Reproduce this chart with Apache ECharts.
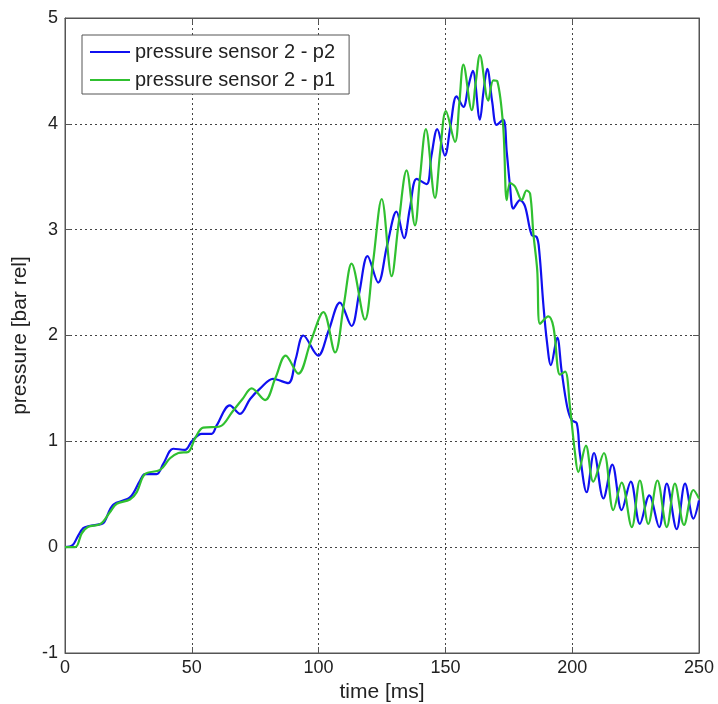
<!DOCTYPE html>
<html>
<head>
<meta charset="utf-8">
<script src="https://cdn.jsdelivr.net/npm/echarts@6/dist/echarts.min.js"></script>
<style>html,body{margin:0;padding:0;background:#fff;}#c{width:718px;height:704px;}</style>
</head>
<body>
<div id="c"></div>
<script>
var seriesNames = ['pressure sensor 2 - p2', 'pressure sensor 2 - p1'];
var xTicks = [0, 50, 100, 150, 200, 250];
var yTicks = [-1, 0, 1, 2, 3, 4, 5];
// [time ms, pressure bar rel]
var p2 = [[0,0],[3,0.02],[5,0.1],[7.2,0.18],[9.5,0.2],[14.5,0.22],[15.6,0.24],[19,0.40],[25.6,0.47],[29.6,0.63],[31.5,0.69],[36.1,0.69],[38.8,0.79],[42.7,0.93],[47.3,0.92],[50,1.0],[53.9,1.07],[57.8,1.07],[59.8,1.15],[65,1.34],[69,1.26],[73,1.40],[77,1.50],[82,1.59],[88,1.55],[91,1.78],[94,2.0],[99.8,1.81],[104,2.05],[108.4,2.31],[113,2.09],[116,2.4],[119.3,2.75],[123.5,2.50],[127,2.85],[130.7,3.17],[133.7,2.92],[136,3.2],[138.7,3.48],[142.6,3.43],[144.5,3.7],[146.8,3.95],[149.8,3.70],[152,3.98],[154.4,4.26],[157.1,4.16],[159,4.35],[160.8,4.50],[163.6,4.04],[165,4.3],[166.5,4.52],[168.5,4.2],[170.2,3.99],[172.8,4.04],[174.2,3.73],[175.5,3.41],[176.8,3.20],[179.4,3.28],[181.4,3.22],[184,2.95],[186,2.93],[187,2.8],[188.6,2.3],[190,1.95],[191.6,1.72],[194.1,1.98],[195.8,1.67],[198,1.33],[199.8,1.20],[201.8,1.17],[203,0.89],[205.7,0.52],[208.6,0.89],[212.3,0.46],[215.8,0.78],[219.5,0.35],[223.1,0.62],[226.7,0.22],[230.4,0.49],[234.3,0.19],[237.3,0.60],[241.2,0.17],[244.5,0.60],[247.8,0.27],[250,0.44]];
var p1 = [[0,0],[4,0],[6.6,0.13],[9,0.19],[14,0.22],[17.7,0.33],[20.4,0.41],[25.6,0.45],[28.3,0.52],[31.5,0.69],[37.5,0.73],[41.4,0.84],[44.7,0.89],[48.6,0.90],[51.3,1.03],[54.5,1.13],[61,1.14],[66,1.28],[70,1.40],[73.6,1.50],[78.9,1.39],[83,1.6],[87,1.81],[92,1.64],[97,1.95],[101.9,2.22],[106.5,1.84],[110,2.3],[113,2.68],[118.3,2.15],[121.5,2.7],[124.9,3.29],[128.8,2.56],[131.5,3.05],[134.7,3.56],[138,3.04],[140,3.5],[142.3,3.95],[145.9,3.30],[148,3.75],[150.2,4.12],[153.8,3.83],[155.5,4.2],[157.1,4.56],[160.4,4.13],[162,4.4],[163.6,4.65],[166.9,4.22],[168.9,4.41],[170.5,4.40],[172.8,3.97],[174.2,3.28],[175.5,3.44],[177.4,3.41],[180.1,3.28],[182,3.37],[183.4,3.34],[184.7,2.96],[186.2,2.62],[187.3,2.11],[190.6,2.18],[192.6,2.08],[195.2,1.63],[197.2,1.66],[199.1,1.33],[201.1,0.89],[202.4,0.71],[205.4,0.96],[208.3,0.62],[212.5,0.89],[216.2,0.35],[219.5,0.61],[223.5,0.19],[226.7,0.63],[230,0.22],[233.6,0.63],[237.3,0.19],[240.5,0.60],[244.1,0.21],[247.8,0.54],[250,0.46]];

var chart = echarts.init(document.getElementById('c'));
var font = 'Liberation Sans, Arial, sans-serif';
var gridLine = {show: true, lineStyle: {color: '#444', type: [2, 3], width: 1}};
var tick = {show: true, inside: true, length: 6, lineStyle: {color: '#555'}};
chart.setOption({
  animation: false,
  backgroundColor: '#fff',
  grid: {left: 65, right: 19, top: 18, bottom: 51, containLabel: false, outerBoundsMode: 'none',
         show: true, borderColor: '#555', borderWidth: 1, backgroundColor: 'transparent'},
  legend: {
    orient: 'vertical', left: 82, top: 35, data: seriesNames,
    backgroundColor: '#fff', borderColor: '#555', borderWidth: 1,
    padding: [6, 14, 3, 8], itemGap: 6, itemWidth: 40, itemHeight: 14,
    icon: 'path://M0,6 L40,6 L40,8 L0,8 Z',
    textStyle: {fontFamily: font, fontSize: 20, lineHeight: 22, color: '#222'}
  },
  xAxis: [{
    type: 'value', min: xTicks[0], max: xTicks[xTicks.length - 1], interval: 50,
    name: 'time [ms]', nameLocation: 'middle', nameGap: 28,
    nameTextStyle: {fontFamily: font, fontSize: 21, color: '#222'},
    axisLine: {onZero: false, lineStyle: {color: '#555'}},
    axisTick: tick,
    axisLabel: {fontFamily: font, fontSize: 18, color: '#222', margin: 6},
    splitLine: gridLine
  }, {
    type: 'value', position: 'top', min: xTicks[0], max: xTicks[xTicks.length - 1], interval: 50,
    axisLine: {onZero: false, lineStyle: {color: '#555'}}, axisTick: tick,
    axisLabel: {show: false}, splitLine: {show: false}
  }],
  yAxis: [{
    type: 'value', min: yTicks[0], max: yTicks[yTicks.length - 1], interval: 1,
    name: 'pressure [bar rel]', nameLocation: 'middle', nameGap: 25,
    nameTextStyle: {fontFamily: font, fontSize: 21, color: '#222'},
    axisLine: {show: true, onZero: false, lineStyle: {color: '#555'}},
    axisTick: tick,
    axisLabel: {fontFamily: font, fontSize: 18, color: '#222', margin: 7},
    splitLine: gridLine
  }, {
    type: 'value', position: 'right', min: yTicks[0], max: yTicks[yTicks.length - 1], interval: 1,
    axisLine: {show: true, onZero: false, lineStyle: {color: '#555'}}, axisTick: tick,
    axisLabel: {show: false}, splitLine: {show: false}
  }],
  series: [
    {name: seriesNames[0], type: 'line', data: p2, showSymbol: false, smooth: 0.35,
     lineStyle: {color: '#1010f0', width: 2.2}, itemStyle: {color: '#1010f0'}},
    {name: seriesNames[1], type: 'line', data: p1, showSymbol: false, smooth: 0.35,
     lineStyle: {color: '#30c030', width: 2.2}, itemStyle: {color: '#30c030'}}
  ]
});
</script>
</body>
</html>
